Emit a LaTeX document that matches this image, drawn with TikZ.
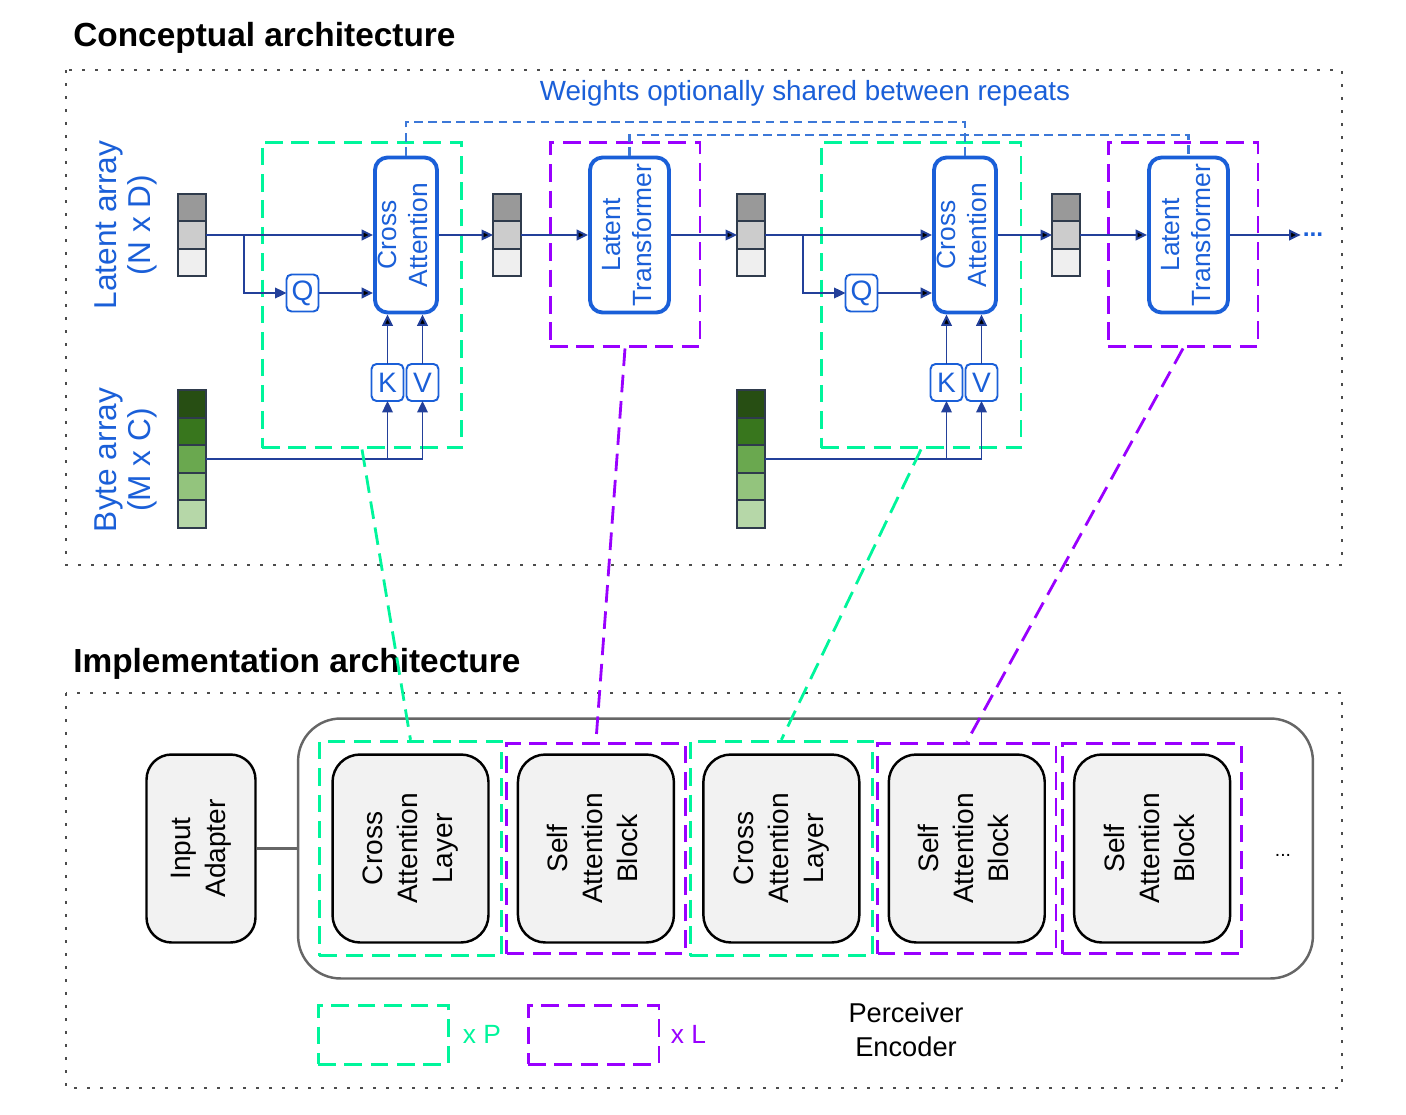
\documentclass[tikz,border=0pt]{standalone}
\usepackage{fontspec}
\setmainfont{Liberation Sans}
\usetikzlibrary{positioning,arrows.meta,fit}

\definecolor{cablue}{HTML}{1A5FD8}
\definecolor{navy}{HTML}{23409A}
\definecolor{shareblue}{HTML}{3C78D8}
\definecolor{xgreen}{HTML}{00F59B}
\definecolor{xpurple}{HTML}{9900FF}
\definecolor{cellline}{HTML}{2F3B4C}
\definecolor{gray0}{HTML}{999999}
\definecolor{gray1}{HTML}{CCCCCC}
\definecolor{gray2}{HTML}{EFEFEF}
\definecolor{green0}{HTML}{274E13}
\definecolor{green1}{HTML}{38761D}
\definecolor{green2}{HTML}{6AA84F}
\definecolor{green3}{HTML}{93C47D}
\definecolor{green4}{HTML}{B6D7A8}
\definecolor{boxfill}{HTML}{F2F2F2}

\newcommand{\vtext}[1]{\rotatebox{90}{\begin{tabular}{@{}c@{}}#1\end{tabular}}}

\begin{document}
\begin{tikzpicture}[x=0.02cm, y=-0.02cm, node distance=0.54cm,
    cell/.style={draw=cellline, line width=1pt, minimum width=0.56cm, minimum height=0.55cm, inner sep=0, outer sep=0},
    attn/.style={draw=cablue, line width=2.2pt, rounded corners=0.25cm, minimum width=1.24cm, minimum height=3.1cm, inner sep=0, text=cablue, font=\fontsize{15}{17.6}\selectfont},
    qkv/.style={draw=cablue, line width=1.1pt, rounded corners=0.1cm, minimum width=0.64cm, minimum height=0.74cm, inner sep=0, outer sep=0, text=cablue, font=\fontsize{16}{19}\selectfont},
    arr/.style={draw=navy, line width=1.1pt, -{Triangle[length=6.5pt, width=6pt]}},
    grp/.style={dash pattern=on 10pt off 5pt, line width=1.7pt, inner sep=0},
    crossgrp/.style={grp, draw=xgreen},
    selfgrp/.style={grp, draw=xpurple},
    zoomlink/.style={dash pattern=on 10pt off 5pt, line width=1.6pt},
    shared/.style={draw=shareblue, line width=1.2pt, dash pattern=on 5pt off 3pt},
    dotframe/.style={draw=black!70, line width=1.5pt, dash pattern=on 1.5pt off 5.9pt},
    block/.style={draw=black, line width=1.4pt, fill=boxfill, rounded corners=0.55cm, inner sep=0, minimum width=3.12cm, minimum height=3.76cm, font=\fontsize{16}{19.9}\selectfont},
    heading/.style={font=\bfseries\fontsize{19}{23}\selectfont, inner sep=0, anchor=base west}]
  \useasboundingbox (0,0) rectangle (1406,1115);

  \draw[dotframe] (66,70) rectangle (1342,565);
  \draw[dotframe] (66,693) rectangle (1342,1088);
  \node[heading] (concept) at (73,47) {Conceptual architecture};
  \node[heading] (impl) at (73,672) {Implementation architecture};

  % conceptual architecture
  \node[crossgrp, minimum width=4cm, minimum height=6.12cm] (ctop1) at (362,295) {};
  \node[selfgrp, minimum width=3cm, minimum height=4.1cm] (stop1) at (625,244.5) {};
  \node[crossgrp, minimum width=4cm, minimum height=6.12cm] (ctop2) at (921,295) {};
  \node[selfgrp, minimum width=3cm, minimum height=4.1cm] (stop2) at (1183,244.5) {};

  \node[text=cablue, font=\fontsize{18}{19.5}\selectfont] (latlbl) at (127,225) {\vtext{Latent array\\(N x D)}};
  \node[text=cablue, font=\fontsize{18}{19.5}\selectfont] (bytelbl) at (127,460) {\vtext{Byte array\\(M x C)}};

  \node[cell, fill=gray1] (la1) at (192,235) {};
  \node[cell, fill=gray0, above=0pt of la1] (la1t) {};
  \node[cell, fill=gray2, below=0pt of la1] (la1b) {};
  \node[cell, fill=gray1] (la2) at (507,235) {};
  \node[cell, fill=gray0, above=0pt of la2] (la2t) {};
  \node[cell, fill=gray2, below=0pt of la2] (la2b) {};
  \node[cell, fill=gray1] (la3) at (751,235) {};
  \node[cell, fill=gray0, above=0pt of la3] (la3t) {};
  \node[cell, fill=gray2, below=0pt of la3] (la3b) {};
  \node[cell, fill=gray1] (la4) at (1066,235) {};
  \node[cell, fill=gray0, above=0pt of la4] (la4t) {};
  \node[cell, fill=gray2, below=0pt of la4] (la4b) {};

  \node[cell, fill=green2] (ba1) at (192,459) {};
  \node[cell, fill=green1, above=0pt of ba1] (ba1u) {};
  \node[cell, fill=green0, above=0pt of ba1u] (ba1uu) {};
  \node[cell, fill=green3, below=0pt of ba1] (ba1d) {};
  \node[cell, fill=green4, below=0pt of ba1d] (ba1dd) {};
  \node[cell, fill=green2] (ba2) at (751,459) {};
  \node[cell, fill=green1, above=0pt of ba2] (ba2u) {};
  \node[cell, fill=green0, above=0pt of ba2u] (ba2uu) {};
  \node[cell, fill=green3, below=0pt of ba2] (ba2d) {};
  \node[cell, fill=green4, below=0pt of ba2d] (ba2dd) {};

  \node[attn] (ca1) at (406,235) {\vtext{Cross\\Attention}};
  \node[attn, minimum width=1.58cm] (lt1) at (629.5,235) {\vtext{Latent\\Transformer}};
  \node[attn] (ca2) at (965,235) {\vtext{Cross\\Attention}};
  \node[attn, minimum width=1.58cm] (lt2) at (1188.5,235) {\vtext{Latent\\Transformer}};

  \node[qkv] (q1) at (302.5,293) {Q};
  \node[qkv] (k1) at (387.5,382.5) {K};
  \node[qkv, right=0.06cm of k1] (v1) {V};
  \node[qkv] (q2) at (861.5,293) {Q};
  \node[qkv] (k2) at (946.5,382.5) {K};
  \node[qkv, right=0.06cm of k2] (v2) {V};
  \node[text=cablue, font=\bfseries\fontsize{14}{16}\selectfont, inner sep=1pt] (more1) at (1313,235) {...};

  \path[arr]
    (la1) edge (ca1)
    (q1) edge (q1 -| ca1.west)
    (ca1) edge (la2)
    (la2) edge (lt1)
    (lt1) edge (la3)
    (la3) edge (ca2)
    (q2) edge (q2 -| ca2.west)
    (ca2) edge (la4)
    (la4) edge (lt2)
    (lt2) edge (more1)
    (k1) edge (k1 |- ca1.south)
    (v1) edge (v1 |- ca1.south)
    (k2) edge (k2 |- ca2.south)
    (v2) edge (v2 |- ca2.south);
  \draw[arr] (la1.east) ++(38,0) |- (q1);
  \draw[arr] (la3.east) ++(38,0) |- (q2);
  \draw[arr] (ba1) -| (v1);
  \draw[arr] (ba2) -| (v2);
  \draw[arr] (k1 |- ba1) -- (k1);
  \draw[arr] (k2 |- ba2) -- (k2);

  % weights shared between repeats
  \draw[shared] (ca1.north) -- ++(0,-34) -| (ca2.north);
  \draw[shared] (lt1.north) -- ++(0,-21) -| (lt2.north);
  \node[text=cablue, font=\fontsize{15.8}{18}\selectfont, anchor=base] (weights) at (805,101) {Weights optionally shared between repeats};

  % implementation architecture
  \node[draw=black!60, line width=1.4pt, rounded corners=0.85cm, minimum width=20.3cm, minimum height=5.2cm] (enc) at (805.5,848.5) {};
  \node[block, minimum width=2.18cm, rounded corners=0.5cm] (ia) at (201,848.5) {\vtext{Input\\Adapter}};
  \node[block] (cal1) at (410.5,848.5) {\vtext{Cross\\Attention\\Layer}};
  \node[block, right=of cal1] (sab1) {\vtext{Self\\Attention\\Block}};
  \node[block, right=of sab1] (cal2) {\vtext{Cross\\Attention\\Layer}};
  \node[block, right=of cal2] (sab2) {\vtext{Self\\Attention\\Block}};
  \node[block, right=of sab2] (sab3) {\vtext{Self\\Attention\\Block}};
  \node[font=\fontsize{11}{13}\selectfont] (more2) at (1283,855) {...};
  \draw[draw=black!60, line width=1.4pt] (ia) -- (enc);

  \node[crossgrp, fit=(cal1), inner sep=0.24cm] (cbot1) {};
  \node[selfgrp, fit=(sab1), inner sep=0.2cm] (sbot1) {};
  \node[crossgrp, fit=(cal2), inner sep=0.24cm] (cbot2) {};
  \node[selfgrp, fit=(sab2), inner sep=0.2cm] (sbot2) {};
  \node[selfgrp, fit=(sab3), inner sep=0.2cm] (sbot3) {};

  % legend
  \node[crossgrp, minimum width=2.62cm, minimum height=1.18cm] (legx) at (383.5,1034.5) {};
  \node[right=0.24cm of legx, text=xgreen, inner sep=0, font=\fontsize{15}{18}\selectfont] (legxt) {x P};
  \node[selfgrp, minimum width=2.62cm, minimum height=1.18cm] (legs) at (593.5,1034.5) {};
  \node[right=0.2cm of legs, text=xpurple, inner sep=0, font=\fontsize{15}{18}\selectfont] (legst) {x L};
  \node[align=center, font=\fontsize{15.5}{19.3}\selectfont] (penc) at (906,1030) {Perceiver\\Encoder};

  % zoom links
  \draw[zoomlink, xgreen] (ctop1.south) -- (cbot1.north);
  \draw[zoomlink, xpurple] (stop1.south) -- (sbot1.north);
  \draw[zoomlink, xgreen] (ctop2.south) -- (cbot2.north);
  \draw[zoomlink, xpurple] (stop2.south) -- (sbot2.north);
\end{tikzpicture}
\end{document}
